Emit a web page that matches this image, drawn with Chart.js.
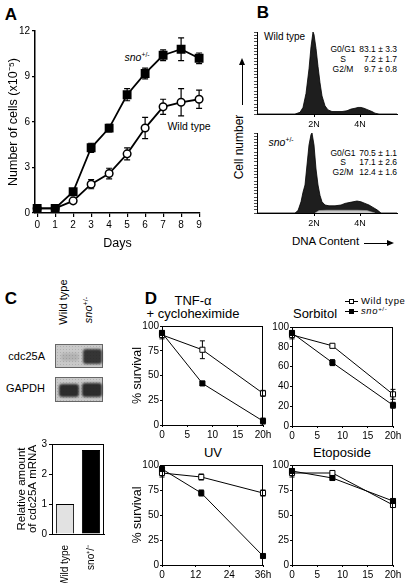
<!DOCTYPE html>
<html lang="en">
<head>
<meta charset="UTF-8">
<title>sno+/- growth, cell cycle and survival</title>
<script src="https://cdn.jsdelivr.net/npm/chart.js@4"></script>
<style>
  * { margin: 0; padding: 0; box-sizing: border-box; }
  body { background: #fff; width: 409px; height: 583px; overflow: hidden;
         font-family: "Liberation Sans", Arial, sans-serif; color: #000; }
  #fig { position: relative; width: 409px; height: 583px; }
  #fig canvas { position: absolute; }
  .t { position: absolute; white-space: nowrap; line-height: 1; }
  .c { transform: translate(-50%, -50%); }
  .panel { font-weight: bold; font-size: 17px; }
  .rot { transform: translate(-50%, -50%) rotate(-90deg); }
  sup { font-size: 0.65em; vertical-align: 0.5em; font-style: normal; }
  .stats { font-size: 8.5px; }
  .blot { position: absolute; background: #c9c9c9; border: 1px solid #666;
          background-image: radial-gradient(#b0b0b0 0.6px, transparent 0.8px);
          background-size: 3px 3px; }
  .band { position: absolute; background: #1c1c1c; filter: blur(1.3px); border-radius: 3px; }
  .legend { position: absolute; font-size: 9.5px; letter-spacing: 0.6px; line-height: 1; white-space: nowrap; }
  .legend i { display: inline-block; position: relative; width: 13px; height: 1px; background: #000;
              vertical-align: middle; margin-right: 3px; }
  .legend i b { position: absolute; left: 4px; top: -2px; width: 5px; height: 5px; border: 1px solid #000; }
</style>
</head>
<body>
<div id="fig">
  <!-- panel letters -->
  <div class="t c panel" style="left:11px; top:14px;">A</div>
  <div class="t c panel" style="left:263px; top:12px;">B</div>
  <div class="t c panel" style="left:11px; top:298px;">C</div>
  <div class="t c panel" style="left:151px; top:298px;">D</div>

  <!-- A annotations -->
  <div class="t c" style="left:137px; top:57px; font-size:10.5px;"><i>sno</i><sup>+/-</sup></div>
  <div class="t c" style="left:189px; top:126px; font-size:10.5px;">Wild type</div>

  <!-- B annotations -->
  <div class="t" style="left:264px; top:32px; font-size:10px;">Wild type</div>
  <div class="t stats c" style="left:343px; top:49px;">G0/G1</div>
  <div class="t stats c" style="left:343px; top:59px;">S</div>
  <div class="t stats c" style="left:343px; top:69px;">G2/M</div>
  <div class="t stats" style="right:12px; top:45px;">83.1 ± 3.3</div>
  <div class="t stats" style="right:12px; top:55px;">7.2 ± 1.7</div>
  <div class="t stats" style="right:12px; top:65px;">9.7 ± 0.8</div>

  <div class="t c" style="left:281px; top:142px; font-size:10.5px;"><i>sno</i><sup>+/-</sup></div>
  <div class="t stats c" style="left:343px; top:153px;">G0/G1</div>
  <div class="t stats c" style="left:343px; top:162px;">S</div>
  <div class="t stats c" style="left:343px; top:172px;">G2/M</div>
  <div class="t stats" style="right:12px; top:149px;">70.5 ± 1.1</div>
  <div class="t stats" style="right:12px; top:158px;">17.1 ± 2.6</div>
  <div class="t stats" style="right:12px; top:168px;">12.4 ± 1.6</div>

  <div class="t rot" style="left:239px; top:147px; font-size:12px;">Cell number</div>
  <div style="position:absolute; left:242px; top:62px; width:1px; height:43px; background:#000;"></div>
  <div style="position:absolute; left:239px; top:58px; width:0; height:0; border-left:3.5px solid transparent; border-right:3.5px solid transparent; border-bottom:7px solid #000;"></div>
  <div class="t" style="left:292px; top:236px; font-size:11.5px;">DNA Content</div>
  <div style="position:absolute; left:364px; top:243px; width:24px; height:1px; background:#000;"></div>
  <div style="position:absolute; left:387px; top:239.5px; width:0; height:0; border-top:3.5px solid transparent; border-bottom:3.5px solid transparent; border-left:7px solid #000;"></div>

  <!-- C blots -->
  <div class="t rot" style="left:63px; top:302px; font-size:11px;">Wild type</div>
  <div class="t rot" style="left:88px; top:310px; font-size:11px;"><i>sno</i><sup>+/-</sup></div>
  <div class="t" style="right:364px; top:351px; font-size:11px;">cdc25A</div>
  <div class="t" style="right:364px; top:383px; font-size:11px;">GAPDH</div>
  <div class="blot" style="left:55px; top:344px; width:48px; height:24px;">
    <div class="band" style="left:5px; top:8px; width:18px; height:8px; opacity:0.12;"></div>
    <div class="band" style="left:27px; top:4px; width:19px; height:15px; opacity:0.85;"></div>
  </div>
  <div class="blot" style="left:55px; top:377px; width:48px; height:25px;">
    <div class="band" style="left:3px; top:6px; width:20px; height:13px; opacity:0.9;"></div>
    <div class="band" style="left:26px; top:5px; width:20px; height:14px; opacity:0.9;"></div>
  </div>

  <!-- D titles and legend -->
  <div class="t c" style="left:193px; top:300px; font-size:13px;">TNF-α</div>
  <div class="t c" style="left:193px; top:313px; font-size:13px;">+ cycloheximide</div>
  <div class="t c" style="left:315px; top:313px; font-size:13px;">Sorbitol</div>
  <div class="t c" style="left:213px; top:452px; font-size:13px;">UV</div>
  <div class="t c" style="left:342px; top:452px; font-size:13px;">Etoposide</div>
  <div class="legend" style="left:345px; top:296px;"><i><b style="background:#fff;"></b></i>Wild type</div>
  <div class="legend" style="left:345px; top:306px;"><i><b style="background:#000;"></b></i><i style="width:auto;height:auto;background:none;margin:0;vertical-align:baseline;">sno</i><sup>+/-</sup></div>
</div>

<script>
  // A: growth curve (cells x10^5)
  var days = [0, 1, 2, 3, 4, 5, 6, 7, 8, 9];
  var growthSno = [0.3, 0.3, 1.4, 4.3, 5.6, 7.8, 9.2, 10.4, 10.8, 10.2];
  var growthSnoErr = [0, 0, 0.15, 0.3, 0.25, 0.4, 0.35, 0.35, 0.75, 0.35];
  var growthWt = [0.3, 0.3, 0.8, 1.9, 2.6, 3.9, 5.6, 7.0, 7.3, 7.5];
  var growthWtErr = [0, 0, 0.1, 0.3, 0.35, 0.4, 0.7, 0.5, 0.9, 0.6];
  var growthTicks = [0, 3, 6, 9, 12];

  // B: DNA content histograms (channel, relative count)
  var ploidyTicks = [57, 103];
  var ploidyLabels = ['2N', '4N'];
  var wtChannels = [0, 38, 43, 46, 49, 52, 54, 56, 57, 59, 61, 63, 65, 68, 71, 75, 80, 85, 90, 94, 98, 101, 104, 107, 111, 115, 118, 122, 140];
  var wtCounts   = [0, 0, 2, 8, 25, 55, 82, 100, 97, 80, 58, 38, 22, 10, 5, 3, 3, 3, 4, 6, 7, 8, 8, 7, 5, 3, 1, 0, 0];
  var snoChannels = [0, 38, 41, 44, 46, 48, 50, 52, 54, 55, 57, 59, 61, 63, 65, 68, 72, 78, 84, 88, 92, 96, 100, 104, 108, 112, 116, 120, 124, 140];
  var snoCounts   = [0, 0, 3, 14, 26, 35, 60, 85, 98, 100, 85, 55, 35, 22, 14, 10, 9, 9, 10, 12, 13, 14, 15, 14, 12, 10, 7, 4, 0, 0];
  var sPhaseChannels = [58, 62, 70, 80, 90, 100, 110, 118];
  var sPhaseCounts   = [0, 3, 3.5, 3.5, 3.5, 3.5, 3, 0];

  // C: relative cdc25A mRNA
  var mrnaLabels = ['Wild type', 'sno\u207A/\u207B'];
  var mrnaLevels = [1.0, 2.8];

  // D: % survival
  var tnfHours = [0, 8, 20];
  var tnfWt = [91, 76, 32], tnfWtErr = [4, 9, 3];
  var tnfSno = [93, 42, 4], tnfSnoErr = [2, 2, 3];
  var sorbHours = [0, 8, 20];
  var sorbWt = [92, 81, 32], sorbWtErr = [4, 1.5, 5];
  var sorbSno = [94, 64, 21], sorbSnoErr = [2, 3, 3];
  var uvHours = [0, 14, 36];
  var uvWt = [92, 88, 72], uvWtErr = [4, 3, 3];
  var uvSno = [96, 72, 9], uvSnoErr = [2, 3, 1];
  var etoHours = [0, 8, 20];
  var etoWt = [92, 92, 60], etoWtErr = [4, 2, 2];
  var etoSno = [94, 87, 64], etoSnoErr = [2, 2, 2];
  var hourTicks20 = [0, 5, 10, 15, 20];
  var hourTicks36 = [0, 12, 24, 36];
  var survTicks25 = [0, 25, 50, 75, 100];
  var survTicks20 = [0, 20, 40, 60, 80, 100];

  Chart.defaults.font.family = '"Liberation Sans", Arial, sans-serif';
  Chart.defaults.color = '#000';
  Chart.defaults.animation = false;
  Chart.defaults.responsive = false;
  Chart.defaults.plugins.legend.display = false;
  Chart.defaults.plugins.tooltip.enabled = false;

  // error bars drawn under the markers
  var errorBars = {
    id: 'errorBars',
    beforeDatasetsDraw: function (chart) {
      var ctx = chart.ctx;
      chart.data.datasets.forEach(function (ds, i) {
        if (!ds.errors) return;
        var meta = chart.getDatasetMeta(i);
        var ys = chart.scales[meta.yAxisID];
        ctx.save();
        ctx.strokeStyle = '#000';
        ctx.lineWidth = ds.errorWidth || 1;
        meta.data.forEach(function (pt, j) {
          var e = ds.errors[j];
          if (!e) return;
          var v = ds.data[j].y;
          var top = ys.getPixelForValue(v + e), bot = ys.getPixelForValue(v - e);
          var cap = ds.capHalf || 2.5;
          ctx.beginPath();
          ctx.moveTo(pt.x, top); ctx.lineTo(pt.x, bot);
          ctx.moveTo(pt.x - cap, top); ctx.lineTo(pt.x + cap, top);
          ctx.moveTo(pt.x - cap, bot); ctx.lineTo(pt.x + cap, bot);
          ctx.stroke();
        });
        ctx.restore();
      });
    }
  };

  // box around the plot area
  var frame = {
    id: 'frame',
    afterDraw: function (chart) {
      var a = chart.chartArea, ctx = chart.ctx;
      ctx.save();
      ctx.strokeStyle = '#000';
      ctx.lineWidth = 1;
      ctx.strokeRect(Math.round(a.left) + 0.5, Math.round(a.top) + 0.5,
                     Math.round(a.right - a.left) - 1, Math.round(a.bottom - a.top));
      ctx.restore();
    }
  };

  // make a canvas at box and work out what puts the plot area at area
  function place(box, area) {
    var c = document.createElement('canvas');
    c.width = box.w; c.height = box.h;
    c.style.left = box.left + 'px';
    c.style.top = box.top + 'px';
    document.getElementById('fig').appendChild(c);
    return {
      canvas: c,
      padding: { left: 0, bottom: 0, top: area.top - box.top, right: box.left + box.w - area.right },
      yWidth: area.left - box.left,
      xHeight: box.top + box.h - area.bottom
    };
  }

  function pairs(xs, ys) {
    return ys.map(function (v, i) { return { x: xs[i], y: v }; });
  }

  function fixedTicks(list) {
    return function (s) { s.ticks = list.map(function (v) { return { value: v }; }); };
  }

  // ---- A ----
  (function () {
    var p = place({ left: 0, top: 20, w: 210, h: 232 }, { left: 35, top: 31, right: 200, bottom: 213 });
    new Chart(p.canvas, {
      type: 'line',
      data: {
        datasets: [
          { data: pairs(days, growthSno), errors: growthSnoErr, capHalf: 3, errorWidth: 1.2,
            borderColor: '#000', borderWidth: 1.8, pointStyle: 'rect', pointRadius: 5,
            pointBackgroundColor: '#000', pointBorderColor: '#000', clip: false },
          { data: pairs(days, growthWt), errors: growthWtErr, capHalf: 3, errorWidth: 1.2,
            borderColor: '#000', borderWidth: 1.8, pointStyle: 'circle', pointRadius: 3.8,
            pointBackgroundColor: '#fff', pointBorderColor: '#000', pointBorderWidth: 1.5, clip: false }
        ]
      },
      options: {
        devicePixelRatio: 1,
        layout: { padding: p.padding },
        scales: {
          x: {
            type: 'linear', min: -0.12, max: 9.05,
            afterBuildTicks: fixedTicks(days),
            afterFit: function (s) { s.height = p.xHeight; },
            ticks: { font: { size: 10 }, padding: 2, maxRotation: 0, autoSkip: false },
            grid: { drawOnChartArea: false, tickLength: 4, color: '#000', lineWidth: 1.2 },
            border: { color: '#000', width: 1.5 },
            title: { display: true, text: 'Days', font: { size: 12.5 }, padding: { top: 0, bottom: 1 } }
          },
          y: {
            min: 0, max: 12,
            afterBuildTicks: fixedTicks(growthTicks),
            afterFit: function (s) { s.width = p.yWidth; },
            ticks: { font: { size: 10 }, padding: 2 },
            grid: { drawOnChartArea: false, tickLength: 3, color: '#000', lineWidth: 1.2 },
            border: { color: '#000', width: 1.5 },
            title: { display: true, text: 'Number of cells (x10\u207B\u2075)', font: { size: 12.5 }, padding: { top: 6, bottom: 0 } }
          }
        }
      },
      plugins: [errorBars]
    });
  })();

  // ---- B ----
  function histogram(box, area, channels, counts, extra) {
    var p = place(box, area);
    var sets = [];
    if (extra) {
      sets.push({ data: pairs(extra.channels, extra.counts), fill: 'origin', backgroundColor: '#c8c8c8',
                  borderColor: '#999', borderWidth: 0.6, pointRadius: 0, order: 0 });
    }
    sets.push({ data: pairs(channels, counts), fill: 'origin', backgroundColor: '#1e1e1e',
                borderColor: '#000', borderWidth: 0.8, pointRadius: 0, order: 1 });
    new Chart(p.canvas, {
      type: 'line',
      data: { datasets: sets },
      options: {
        devicePixelRatio: 1,
        layout: { padding: p.padding },
        scales: {
          x: {
            type: 'linear', min: 0, max: 140,
            afterBuildTicks: fixedTicks(ploidyTicks),
            afterFit: function (s) { s.height = p.xHeight; },
            ticks: { font: { size: 9 }, padding: 2, maxRotation: 0, autoSkip: false,
                     callback: function (v, i) { return ploidyLabels[i]; } },
            grid: { drawOnChartArea: false, tickLength: 3, color: '#000' },
            border: { color: '#000' }
          },
          y: {
            min: 0, max: 100,
            afterFit: function (s) { s.width = p.yWidth; },
            ticks: { display: false, stepSize: 4 },
            grid: { drawOnChartArea: false, tickLength: 3, color: '#000', lineWidth: 0.7 },
            border: { color: '#000' }
          }
        }
      }
    });
  }
  histogram({ left: 250, top: 25, w: 155, h: 105 }, { left: 257, top: 32, right: 397, bottom: 114 },
            wtChannels, wtCounts);
  histogram({ left: 250, top: 126, w: 155, h: 105 }, { left: 257, top: 133, right: 397, bottom: 213 },
            snoChannels, snoCounts, { channels: sPhaseChannels, counts: sPhaseCounts });

  // ---- C bar ----
  (function () {
    var p = place({ left: 0, top: 436, w: 115, h: 147 }, { left: 52, top: 442, right: 104, bottom: 534 });
    new Chart(p.canvas, {
      type: 'bar',
      data: {
        labels: mrnaLabels,
        datasets: [{ data: mrnaLevels, backgroundColor: ['#e2e2e2', '#000'], borderColor: '#000',
                     borderWidth: 1, barPercentage: 0.7, categoryPercentage: 1 }]
      },
      options: {
        devicePixelRatio: 1,
        layout: { padding: p.padding },
        scales: {
          x: {
            afterFit: function (s) { s.height = p.xHeight; },
            ticks: { font: { size: 10 }, padding: 3, minRotation: 90, maxRotation: 90 },
            grid: { display: false },
            border: { color: '#000' }
          },
          y: {
            min: 0, max: 3,
            afterFit: function (s) { s.width = p.yWidth; },
            ticks: { font: { size: 10 }, padding: 2, stepSize: 1 },
            grid: { drawOnChartArea: false, tickLength: 3, color: '#000' },
            border: { color: '#000' },
            title: { display: true, text: ['Relative amount', 'of cdc25A mRNA'],
                     font: { size: 11.5, lineHeight: 0.95 }, padding: { top: 16, bottom: 0 } }
          }
        }
      },
      plugins: [frame]
    });
  })();

  // ---- D ----
  function survival(box, area, hours, xTicks, yTicks, wt, wtErr, sno, snoErr, withTitle) {
    var p = place(box, area);
    new Chart(p.canvas, {
      type: 'line',
      data: {
        datasets: [
          { data: pairs(hours, sno), errors: snoErr, borderColor: '#000', borderWidth: 1,
            pointStyle: 'rect', pointRadius: 3.6, pointBackgroundColor: '#000',
            pointBorderColor: '#000', clip: false },
          { data: pairs(hours, wt), errors: wtErr, borderColor: '#000', borderWidth: 1,
            pointStyle: 'rect', pointRadius: 3.6, pointBackgroundColor: '#fff',
            pointBorderColor: '#000', pointBorderWidth: 1, clip: false }
        ]
      },
      options: {
        devicePixelRatio: 1,
        layout: { padding: p.padding },
        scales: {
          x: {
            type: 'linear', min: xTicks[0], max: xTicks[xTicks.length - 1],
            afterBuildTicks: fixedTicks(xTicks),
            afterFit: function (s) { s.height = p.xHeight; },
            ticks: { font: { size: 10 }, padding: 2, maxRotation: 0, autoSkip: false,
                     callback: function (v, i) { return i === xTicks.length - 1 ? v + 'h' : v; } },
            grid: { drawOnChartArea: false, tickLength: 2, color: '#000' },
            border: { color: '#000' }
          },
          y: {
            min: 0, max: 100,
            afterBuildTicks: fixedTicks(yTicks),
            afterFit: function (s) { s.width = p.yWidth; },
            ticks: { font: { size: 10 }, padding: 1 },
            grid: { drawOnChartArea: false, tickLength: 2, color: '#000' },
            border: { color: '#000' },
            title: { display: withTitle, text: '% survival', font: { size: 12.5 }, padding: { top: 0, bottom: 0 } }
          }
        }
      },
      plugins: [errorBars, frame]
    });
  }

  survival({ left: 130, top: 318, w: 145, h: 122 }, { left: 162, top: 326, right: 263, bottom: 425 },
           tnfHours, hourTicks20, survTicks25, tnfWt, tnfWtErr, tnfSno, tnfSnoErr, true);
  survival({ left: 270, top: 318, w: 139, h: 122 }, { left: 292, top: 327, right: 393, bottom: 426 },
           sorbHours, hourTicks20, survTicks20, sorbWt, sorbWtErr, sorbSno, sorbSnoErr, false);
  survival({ left: 130, top: 457, w: 145, h: 126 }, { left: 162, top: 465, right: 263, bottom: 565 },
           uvHours, hourTicks36, survTicks25, uvWt, uvWtErr, uvSno, uvSnoErr, true);
  survival({ left: 270, top: 457, w: 139, h: 126 }, { left: 292, top: 465, right: 393, bottom: 565 },
           etoHours, hourTicks20, survTicks25, etoWt, etoWtErr, etoSno, etoSnoErr, false);
</script>
</body>
</html>
